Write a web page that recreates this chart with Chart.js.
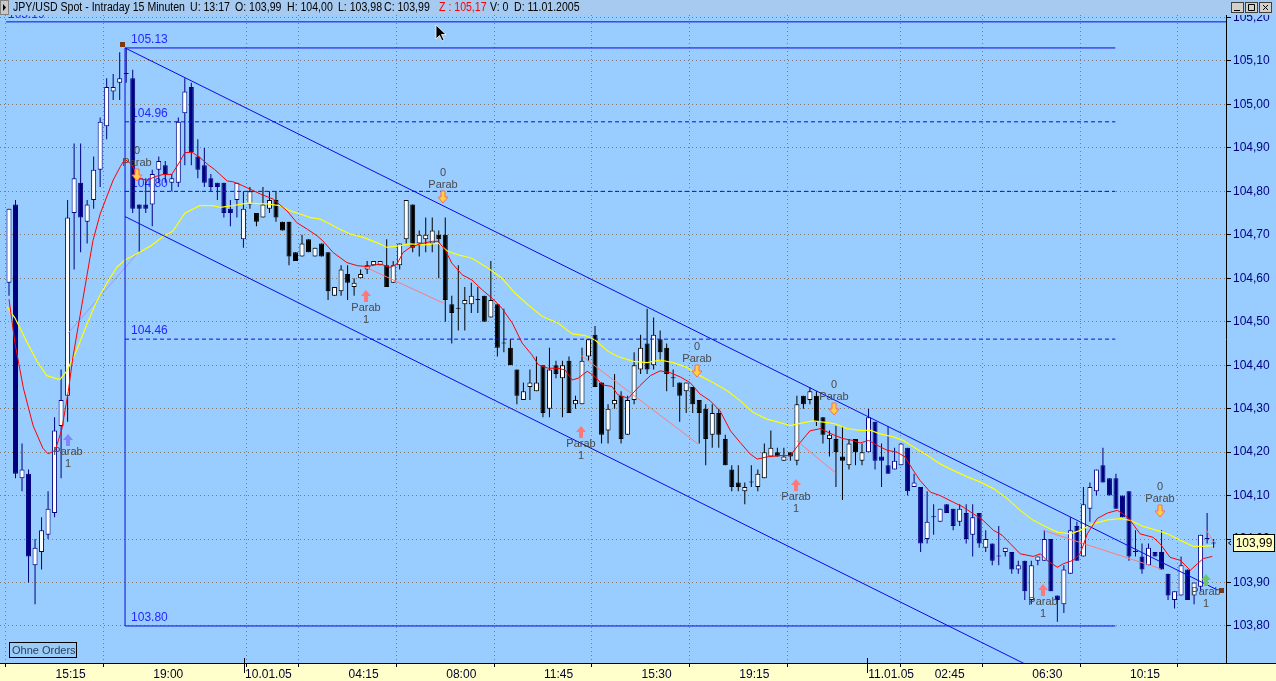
<!DOCTYPE html>
<html><head><meta charset="utf-8">
<script src="https://cdn.jsdelivr.net/npm/chart.js@4.4.1/dist/chart.umd.min.js"></script>
<style>html,body{margin:0;padding:0;background:#99CCFF;overflow:hidden}canvas{display:block}</style>
</head><body>
<canvas id="c" width="1276" height="681" style="width:1276px;height:681px"></canvas>
<script>
// ---- candle data (15-minute bars, index 0..185) ----
const opens = [104.59,104.77,104.14,104.15,103.94,103.97,104.01,104.06,104.26,104.33,104.75,104.82,104.73,104.78,104.85,104.95,105.03,105.05,105.07,105.06,
104.77,104.77,104.77,104.85,104.86,104.82,104.82,104.98,105.04,104.88,104.86,104.83,104.82,104.82,104.76,104.78,104.69,104.77,104.75,104.74,
104.76,104.78,104.73,104.73,104.66,104.65,104.69,104.65,104.68,104.66,104.56,104.57,104.61,104.58,104.60,104.62,104.63,104.63,104.63,104.59,
104.63,104.69,104.77,104.68,104.69,104.68,104.70,104.70,104.54,104.53,104.54,104.54,104.55,104.56,104.51,104.54,104.45,104.44,104.39,104.32,
104.35,104.34,104.40,104.30,104.40,104.37,104.41,104.31,104.31,104.42,104.47,104.36,104.25,104.31,104.33,104.24,104.32,104.39,104.45,104.40,
104.46,104.44,104.37,104.36,104.34,104.35,104.32,104.30,104.24,104.29,104.23,104.16,104.13,104.11,104.13,104.12,104.14,104.19,104.20,104.18,
104.20,104.18,104.33,104.32,104.33,104.28,104.23,104.23,104.19,104.17,104.23,104.18,104.20,104.27,104.19,104.17,104.16,104.17,104.21,104.12,
104.12,104.00,104.05,104.04,104.08,104.07,104.04,104.06,104.01,104.06,103.98,103.99,103.96,103.97,103.97,103.93,103.95,103.86,103.95,103.95,
104.00,103.87,103.85,103.92,104.03,103.96,104.07,104.11,104.17,104.14,104.14,104.10,104.11,103.97,103.96,103.94,103.97,103.97,103.92,103.86,
103.87,103.93,103.87,103.89,104.00,103.99];
const highs = [104.76,104.78,104.22,104.16,104.00,104.05,104.11,104.28,104.39,104.78,104.91,104.91,104.78,104.88,104.97,105.06,105.07,105.12,105.13,105.08,
104.77,104.83,104.85,104.88,104.87,104.84,104.97,105.06,105.05,104.92,104.90,104.84,104.82,104.82,104.78,104.82,104.80,104.81,104.75,104.81,
104.80,104.80,104.73,104.73,104.66,104.70,104.69,104.67,104.68,104.66,104.58,104.63,104.63,104.60,104.62,104.64,104.64,104.64,104.69,104.64,
104.68,104.78,104.77,104.71,104.74,104.74,104.71,104.74,104.56,104.63,104.58,104.59,104.58,104.56,104.64,104.54,104.53,104.46,104.39,104.36,
104.39,104.42,104.40,104.44,104.41,104.41,104.42,104.33,104.44,104.46,104.49,104.36,104.31,104.38,104.34,104.33,104.43,104.47,104.53,104.51,
104.48,104.45,104.39,104.36,104.36,104.35,104.32,104.31,104.31,104.30,104.24,104.17,104.17,104.13,104.17,104.16,104.22,104.25,104.21,104.21,
104.20,104.33,104.33,104.35,104.34,104.28,104.25,104.26,104.26,104.23,104.23,104.22,104.30,104.27,104.22,104.26,104.21,104.22,104.21,104.15,
104.12,104.11,104.08,104.07,104.08,104.07,104.08,104.08,104.08,104.06,104.02,103.99,104.03,103.98,103.97,103.95,103.95,103.95,103.96,104.02,
104.00,103.87,103.94,104.05,104.04,104.12,104.13,104.16,104.21,104.14,104.15,104.10,104.11,104.02,103.99,103.99,103.97,104.02,103.92,103.88,
103.96,103.93,103.90,104.01,104.06,104.00];
const lows = [104.56,104.14,104.11,103.90,103.85,103.93,104.00,104.05,104.14,104.27,104.62,104.66,104.68,104.76,104.81,104.92,105.01,105.01,105.05,104.75,
104.66,104.75,104.72,104.82,104.82,104.80,104.81,104.86,104.86,104.83,104.81,104.80,104.78,104.74,104.72,104.74,104.67,104.76,104.72,104.74,
104.75,104.73,104.71,104.63,104.64,104.65,104.66,104.65,104.65,104.55,104.56,104.56,104.55,104.56,104.60,104.61,104.63,104.63,104.58,104.59,
104.62,104.68,104.66,104.65,104.66,104.66,104.60,104.50,104.45,104.48,104.48,104.52,104.52,104.50,104.51,104.42,104.43,104.40,104.31,104.32,
104.32,104.34,104.28,104.28,104.37,104.28,104.29,104.30,104.31,104.41,104.35,104.22,104.22,104.30,104.22,104.24,104.31,104.38,104.38,104.39,
104.41,104.34,104.35,104.27,104.29,104.29,104.22,104.17,104.21,104.21,104.17,104.11,104.11,104.08,104.12,104.11,104.14,104.19,104.19,104.18,
104.18,104.17,104.30,104.31,104.26,104.22,104.19,104.12,104.09,104.16,104.17,104.17,104.20,104.16,104.12,104.15,104.16,104.17,104.10,104.12,
103.97,103.99,104.01,104.04,104.06,104.02,104.03,103.99,103.96,103.98,103.97,103.94,103.94,103.96,103.92,103.92,103.86,103.85,103.94,103.95,
103.88,103.81,103.83,103.92,103.95,103.96,104.04,104.10,104.13,104.10,104.07,104.05,103.95,103.96,103.92,103.94,103.96,103.93,103.86,103.84,
103.87,103.86,103.85,103.88,103.99,103.98];
const closes = [104.76,104.15,104.16,103.96,103.98,104.02,104.07,104.25,104.32,104.74,104.83,104.74,104.77,104.85,104.96,105.04,105.04,105.06,105.07,104.76,
104.76,104.76,104.84,104.87,104.84,104.83,104.96,105.03,104.89,104.85,104.82,104.81,104.81,104.75,104.75,104.82,104.76,104.80,104.73,104.77,
104.78,104.74,104.71,104.65,104.64,104.68,104.66,104.67,104.65,104.57,104.58,104.62,104.59,104.59,104.61,104.63,104.64,104.64,104.58,104.63,
104.68,104.78,104.67,104.70,104.70,104.71,104.69,104.55,104.52,104.53,104.55,104.56,104.55,104.50,104.55,104.44,104.45,104.40,104.33,104.34,
104.36,104.36,104.29,104.39,104.38,104.40,104.29,104.32,104.41,104.46,104.35,104.24,104.30,104.32,104.23,104.32,104.40,104.44,104.39,104.47,
104.43,104.38,104.37,104.33,104.36,104.31,104.29,104.23,104.29,104.24,104.17,104.12,104.12,104.12,104.13,104.15,104.20,104.21,104.19,104.19,
104.19,104.31,104.31,104.34,104.27,104.24,104.24,104.20,104.18,104.22,104.20,104.20,104.28,104.18,104.18,104.15,104.18,104.22,104.11,104.13,
103.99,104.04,104.05,104.07,104.06,104.03,104.07,104.00,104.05,103.99,104.00,103.95,103.96,103.98,103.93,103.94,103.88,103.94,103.96,104.00,
103.88,103.86,103.93,104.02,103.95,104.08,104.12,104.16,104.13,104.10,104.07,104.05,103.96,103.97,103.93,103.98,103.96,103.93,103.87,103.88,
103.94,103.86,103.90,104.01,104.00,103.99];

// ---- axis ticks ----
const xTickIdx = [7,22,36.1,37,52,67,82,97,112,127,131.8,142,157,172];
const xTickLabels = ['15:15','19:00','10.01.05','','04:15','08:00','11:45','15:30','19:15','','11.01.05','02:45','06:30','10:15'];
const dayTickIdx = [36.1,131.8];
const yTicks = [103.8,103.9,104.0,104.1,104.2,104.3,104.4,104.5,104.6,104.7,104.8,104.9,105.0,105.1,105.2];

// ---- moving averages ----
const maRedIdx = [0,0.9,2.2,3.7,5.2,6.0,7.1,8.1,9.1,9.8,10.9,12.0,12.9,14.0,15.1,16.0,17.1,17.8,18.9,19.8,21.2,22.7,23.7,25.0,26.3,27.0,28.1,29.3,30.6,31.6,33.5,34.4,35.9,38.6,40.6,42.7,44.2,45.8,47.3,48.2,49.8,51.9,53.5,55.0,57.0,58.5,59.6,60.5,61.6,63.1,65.0,65.9,67.0,68.0,69.6,71.1,72.7,74.2,75.7,77.3,78.8,80.3,81.3,82.8,84.3,85.4,86.5,87.4,88.8,90.0,91.1,92.6,93.5,95.1,96.9,98.5,100.0,101.5,103.1,104.6,106.1,107.7,109.2,110.8,112.3,113.8,114.9,116.4,118.4,120.0,121.5,123.0,124.6,126.6,128.1,129.6,130.7,132.0,133.3,134.9,136.4,137.6,138.7,139.9,141.5,143.0,145.0,146.5,148.1,149.6,151.2,152.5,153.8,155.3,157.3,158.4,159.4,161.0,161.9,163.4,164.5,165.6,167.1,168.7,170.2,171.1,172.2,173.7,175.7,176.8,178.3,179.9,181.4,182.5,183.4,184.8];
const maRedVal = [104.552,104.452,104.348,104.261,104.209,104.196,104.204,104.252,104.339,104.417,104.513,104.609,104.687,104.748,104.791,104.826,104.857,104.874,104.861,104.830,104.826,104.835,104.839,104.839,104.870,104.889,104.890,104.878,104.861,104.850,104.824,104.822,104.813,104.794,104.782,104.755,104.728,104.713,104.698,104.686,104.659,104.636,104.629,104.627,104.633,104.625,104.633,104.659,104.671,104.679,104.685,104.685,104.665,104.635,104.608,104.596,104.573,104.554,104.531,104.497,104.451,104.424,104.401,104.393,104.393,104.389,104.366,104.370,104.386,104.374,104.355,104.351,104.332,104.324,104.353,104.376,104.387,104.383,104.373,104.360,104.334,104.318,104.295,104.249,104.222,104.196,104.184,104.189,104.192,104.192,104.222,104.249,104.254,104.240,104.231,104.227,104.221,104.227,104.216,104.204,104.200,104.189,104.162,104.135,104.108,104.100,104.085,104.074,104.058,104.043,104.020,104.009,103.989,103.966,103.960,103.966,103.951,103.935,103.943,103.951,103.966,104.012,104.047,104.060,104.066,104.058,104.043,104.012,104.004,103.989,103.958,103.951,103.928,103.943,103.955,103.960];
const maYelIdx = [-0.3,0.9,2.8,4.3,5.8,7.8,8.9,10.4,12.0,13.5,15.1,16.6,17.8,19.7,21.7,23.7,25.2,27.0,29.3,31.3,32.4,34.4,36.6,39.6,41.6,43.2,44.7,46.2,47.8,49.3,50.8,52.4,54.4,56.5,58.1,60.1,61.6,63.9,65.9,67.4,69.0,71.1,73.6,75.7,77.7,79.7,81.9,84.3,86.5,88.5,90.0,92.0,93.5,95.9,98.0,100.0,102.0,104.1,106.1,108.1,110.3,112.3,114.3,116.4,118.4,120.0,121.5,123.5,125.7,126.9,128.7,130.7,132.3,133.8,135.8,137.3,138.9,141.0,143.0,145.0,147.2,149.2,151.2,153.3,155.3,157.3,159.4,161.0,163.0,164.5,166.5,168.7,170.7,172.2,174.2,176.3,177.9,179.9,181.9,183.3,184.9];
const maYelVal = [104.535,104.509,104.452,104.409,104.376,104.367,104.387,104.435,104.496,104.548,104.591,104.626,104.642,104.657,104.674,104.696,104.709,104.750,104.767,104.767,104.763,104.767,104.773,104.771,104.767,104.755,104.748,104.740,104.736,104.725,104.713,104.702,104.694,104.682,104.671,104.675,104.679,104.677,104.681,104.662,104.654,104.646,104.623,104.600,104.566,104.539,104.512,104.497,104.472,104.468,104.458,104.432,104.420,104.409,104.406,104.412,104.406,104.395,104.376,104.360,104.341,104.318,104.291,104.276,104.268,104.261,104.266,104.272,104.268,104.265,104.254,104.250,104.250,104.242,104.235,104.227,104.212,104.193,104.173,104.158,104.143,104.131,104.116,104.093,104.066,104.043,104.027,104.016,104.012,104.020,104.035,104.044,104.047,104.043,104.029,104.020,104.012,103.997,103.983,103.983,103.985];

// ---- stop / trend segments ----
const sarStartIdx = [9.1,54.7,87.9,121.0,158.8,183.9];
const sarEndIdx   = [19.7,66.7,105.8,126.9,176.8,185.0];
const sarStartVal = [104.474,104.626,104.422,104.226,104.020,104.020];
const sarEndVal   = [104.657,104.543,104.219,104.153,103.932,103.993];

// ---- horizontal levels and channel ----
const levelPrices = [105.13,104.96,104.80,104.46,103.80];
const levelLabels = ['105.13','104.96','104.80','104.46','103.80'];
const levelDashed = [false,true,true,true,false];
const levelStartIdx = 17.82, levelEndIdx = 169.9;
const topLevelPrice = 105.19, topLevelLabel = '105.19';
const chanUpperIdx = [17.82,185.56], chanUpperVal = [105.13,103.883];
const chanLowerIdx = [17.82,160], chanLowerVal = [104.742,103.683];

// ---- Parab signals ----
const sigIdx   = [9.0,19.7,54.8,66.7,87.9,105.7,120.9,126.7,158.8,176.8,183.9];
const sigDir   = [1,-1,1,-1,1,-1,1,-1,1,-1,1];
const sigPrice = [104.228,104.838,104.559,104.787,104.246,104.387,104.124,104.299,103.883,104.065,103.906];
const sigColor = ['#8484FF','#FFD040','#FF7878','#FFD040','#FF7878','#FFD040','#FF7878','#FFD040','#FF7878','#FFD040','#6CC46C'];
const lastPrice = 103.99;

const FONT = "'Liberation Sans', Arial, sans-serif";
const NAVY = '#000080';
const idx = opens.map((_, i) => i);
const isNavy = i => i <= 36 || i >= 132;
const wickColors = idx.map(i => isNavy(i) ? NAVY : '#000000');
const bodyFill = idx.map(i => closes[i] > opens[i] ? '#FFFFFF' : (isNavy(i) ? NAVY : '#000000'));
const bodyStroke = wickColors;
const pts = (xs, ys) => xs.map((x, k) => ({x: x, y: ys[k]}));
const GRID = '#857a70';

const datasets = [
  {type:'line', data: pts(maRedIdx, maRedVal), borderColor:'#FF0000', borderWidth:1, pointRadius:0, tension:0, order:1},
  {type:'line', data: pts(maYelIdx, maYelVal), borderColor:'#FFFF00', borderWidth:1.2, pointRadius:0, tension:0, order:2},
  {type:'line', data: pts(chanUpperIdx, chanUpperVal), borderColor:'#0A0AE6', borderWidth:1, pointRadius:0, order:1},
  {type:'line', data: pts(chanLowerIdx, chanLowerVal), borderColor:'#0A0AE6', borderWidth:1, pointRadius:0, order:1},
  {type:'line', data: [{x:-0.45,y:topLevelPrice},{x:186.9,y:topLevelPrice}], borderColor:'#0A0AE6', borderWidth:1, pointRadius:0, order:1},
  {type:'line', data: [{x:levelStartIdx,y:levelPrices[4]},{x:levelStartIdx,y:levelPrices[0]}], borderColor:'#0A0AE6', borderWidth:1, pointRadius:0, order:1},
];
levelPrices.forEach((p, k) => datasets.push({type:'line', data:[{x:levelStartIdx,y:p},{x:levelEndIdx,y:p}], borderColor:'#0A0AE6', borderWidth:1, borderDash: levelDashed[k] ? [4,3] : [], pointRadius:0, order:1}));
sarStartIdx.forEach((s, k) => datasets.push({type:'line', data:[{x:s,y:sarStartVal[k]},{x:sarEndIdx[k],y:sarEndVal[k]}], borderColor: k === 0 ? '#9A9AF0' : '#FF7C7C', borderWidth:1, pointRadius:0, order:3}));
datasets.push({type:'bar', data: idx.map(i => ({x:i, y:[lows[i], highs[i]]})), backgroundColor: wickColors, borderWidth:0, barThickness:1, grouped:false, inflateAmount:0, order:6});
datasets.push({type:'bar', data: idx.map(i => ({x:i, y:[opens[i], closes[i]]})), backgroundColor: bodyFill, borderColor: bodyStroke, borderWidth:1, borderSkipped:false, barThickness:5, minBarLength:1, grouped:false, inflateAmount:0, order:5});

function arrow(ctx, x, y, dir, fill, stroke) {
  ctx.save();
  ctx.beginPath();
  const h = dir; // 1 = up, -1 = down
  ctx.moveTo(x, y - 6*h);
  ctx.lineTo(x + 5, y);
  ctx.lineTo(x + 2, y);
  ctx.lineTo(x + 2, y + 6*h);
  ctx.lineTo(x - 2, y + 6*h);
  ctx.lineTo(x - 2, y);
  ctx.lineTo(x - 5, y);
  ctx.closePath();
  ctx.fillStyle = fill; ctx.fill();
  if (stroke) { ctx.strokeStyle = stroke; ctx.lineWidth = 1; ctx.stroke(); }
  ctx.restore();
}

const decor = {
  id: 'decor',
  beforeDraw(chart) {
    const ctx = chart.ctx;
    ctx.save();
    ctx.fillStyle = '#99CCFF'; ctx.fillRect(0, 0, 1276, 681);
    ctx.fillStyle = '#FFFFCC'; ctx.fillRect(0, 663, 1276, 18);
    ctx.restore();
  },
  beforeDatasetsDraw(chart) {
    const ctx = chart.ctx, xs = chart.scales.x, ys = chart.scales.y, a = chart.chartArea;
    ctx.save();
    ctx.beginPath(); ctx.rect(a.left, a.top, a.right - a.left, a.bottom - a.top); ctx.clip();
    ctx.font = '12px ' + FONT; ctx.fillStyle = '#2626FF'; ctx.textBaseline = 'bottom'; ctx.textAlign = 'left';
    const lx = xs.getPixelForValue(levelStartIdx) + 6;
    levelPrices.forEach((p, k) => ctx.fillText(levelLabels[k], lx, ys.getPixelForValue(p) - 2));
    ctx.fillText(topLevelLabel, 8, ys.getPixelForValue(topLevelPrice) - 1);
    ctx.restore();
  },
  afterDatasetsDraw(chart) {
    const ctx = chart.ctx, xs = chart.scales.x, ys = chart.scales.y;
    ctx.save();
    ctx.fillStyle = '#7A3A10';
    const sx = xs.getPixelForValue(chanUpperIdx[0]), sy = ys.getPixelForValue(chanUpperVal[0]);
    ctx.fillRect(Math.round(sx) - 5, Math.round(sy) - 6, 5, 5);
    const ex = xs.getPixelForValue(chanUpperIdx[1]), ey = ys.getPixelForValue(chanUpperVal[1]);
    ctx.fillRect(Math.round(ex) + 2, Math.round(ey) - 2, 5, 5);
    ctx.font = '11px ' + FONT; ctx.textAlign = 'center'; ctx.textBaseline = 'middle';
    sigIdx.forEach((s, k) => {
      const x = Math.round(xs.getPixelForValue(s)), y = Math.round(ys.getPixelForValue(sigPrice[k]));
      if (sigDir[k] > 0) {
        arrow(ctx, x, y, 1, sigColor[k], null);
        ctx.fillStyle = '#4A4A4A';
        ctx.fillText('Parab', x, y + 12);
        ctx.fillText('1', x, y + 24);
      } else {
        arrow(ctx, x, y, -1, sigColor[k], '#FF6A50');
        ctx.fillStyle = '#4A4A4A';
        ctx.fillText('Parab', x, y - 12);
        ctx.fillText('0', x, y - 24);
      }
    });
    ctx.restore();
  },
  afterDraw(chart) {
    const ctx = chart.ctx, xs = chart.scales.x, ys = chart.scales.y;
    ctx.save();
    ctx.strokeStyle = '#000'; ctx.lineWidth = 1;
    ctx.beginPath(); ctx.moveTo(0, 663.5); ctx.lineTo(1276, 663.5); ctx.stroke();
    dayTickIdx.forEach(d => {
      const x = Math.round(xs.getPixelForValue(d)) + 0.5;
      ctx.beginPath(); ctx.moveTo(x, 658); ctx.lineTo(x, 673); ctx.stroke();
    });
    // title bar
    ctx.fillStyle = '#A6CAF0'; ctx.fillRect(0, 0, 1276, 15);
    ctx.fillStyle = '#C8C8C8'; ctx.fillRect(0, 0, 9, 15);
    ctx.strokeStyle = '#808080'; ctx.strokeRect(0.5, 0.5, 8, 14);
    ctx.fillStyle = '#000'; ctx.beginPath(); ctx.moveTo(3, 4); ctx.lineTo(6, 7.5); ctx.lineTo(3, 11); ctx.closePath(); ctx.fill();
    ctx.font = '12px ' + FONT; ctx.textBaseline = 'middle'; ctx.textAlign = 'left';
    const title = [['JPY/USD Spot - Intraday 15 Minuten',13,'#000'],['U: 13:17',190,'#000'],['O: 103,99',235,'#000'],['H: 104,00',287,'#000'],['L: 103,98',338,'#000'],['C: 103,99',384,'#000'],['Z : 105,17',439,'#FF0000'],['V: 0',490,'#000'],['D: 11.01.2005',514,'#000']];
    title.forEach(t => { ctx.fillStyle = t[2]; ctx.fillText(t[0], t[1], 8, ctx.measureText(t[0]).width * 0.88); });
    [1231, 1245, 1259].forEach((bx, k) => {
      ctx.fillStyle = '#D4D0C8'; ctx.fillRect(bx, 2, 13, 11);
      ctx.strokeStyle = '#404040'; ctx.strokeRect(bx + 0.5, 2.5, 12, 10);
      ctx.strokeStyle = '#000'; ctx.beginPath();
      if (k === 0) { ctx.moveTo(bx + 3, 10.5); ctx.lineTo(bx + 9, 10.5); }
      if (k === 1) { ctx.rect(bx + 3.5, 4.5, 6, 6); }
      if (k === 2) { ctx.moveTo(bx + 4, 5); ctx.lineTo(bx + 9, 10); ctx.moveTo(bx + 9, 5); ctx.lineTo(bx + 4, 10); }
      ctx.stroke();
    });
    // Ohne Orders button
    ctx.fillStyle = '#9ACCF8'; ctx.fillRect(9, 642, 68, 16);
    ctx.strokeStyle = '#000'; ctx.strokeRect(9.5, 642.5, 67, 15);
    ctx.fillStyle = '#2C3C5C'; ctx.font = '11px ' + FONT; ctx.textAlign = 'left'; ctx.textBaseline = 'middle';
    ctx.fillText('Ohne Orders', 12, 650.5);
    // last price box
    const py = Math.round(ys.getPixelForValue(lastPrice));
    ctx.fillStyle = '#FFFFC0'; ctx.fillRect(1233, py - 9, 42, 18);
    ctx.strokeStyle = '#000'; ctx.strokeRect(1233.5, py - 8.5, 41, 17);
    ctx.fillStyle = '#000'; ctx.font = '12px ' + FONT; ctx.textAlign = 'center';
    ctx.fillText(lastPrice.toFixed(2).replace('.', ','), 1254, py + 0.5);
    ctx.beginPath(); ctx.moveTo(1231, py - 2); ctx.lineTo(1228.5, py); ctx.lineTo(1231, py + 2); ctx.stroke();
    // mouse pointer
    const cx = 436, cy = 25;
    ctx.beginPath();
    ctx.moveTo(cx, cy); ctx.lineTo(cx, cy + 14); ctx.lineTo(cx + 3.5, cy + 10.5); ctx.lineTo(cx + 6, cy + 16);
    ctx.lineTo(cx + 8, cy + 15); ctx.lineTo(cx + 5.5, cy + 9.5); ctx.lineTo(cx + 10, cy + 9.5); ctx.closePath();
    ctx.fillStyle = '#000'; ctx.fill(); ctx.strokeStyle = '#FFF'; ctx.lineWidth = 0.8; ctx.stroke();
    ctx.restore();
  }
};

new Chart(document.getElementById('c'), {
  type: 'bar',
  data: { datasets },
  plugins: [decor],
  options: {
    responsive: false, animation: false, events: [],
    devicePixelRatio: 1,
    layout: { padding: { top: 15, left: 0, right: 0, bottom: 0 } },
    plugins: { legend: { display: false }, tooltip: { enabled: false } },
    scales: {
      x: {
        type: 'linear', offset: false, min: -1.382, max: 186.9,
        afterBuildTicks: s => { s.ticks = xTickIdx.map(v => ({value: v})); },
        afterFit: s => { s.height = 18; },
        ticks: { autoSkip: false, maxRotation: 0, minRotation: 0, align: 'start', labelOffset: 1, padding: 0,
          color: '#000033', font: { family: FONT, size: 12 },
          callback: (v, k) => xTickLabels[k] },
        grid: { color: c => (c.tick && dayTickIdx.includes(c.tick.value)) ? 'rgba(0,0,0,0)' : GRID,
          tickColor: c => (c.tick && dayTickIdx.includes(c.tick.value)) ? 'rgba(0,0,0,0)' : '#000',
          tickLength: 4, lineWidth: 1, tickBorderDash: [] },
        border: { display: true, color: '#000', dash: [1, 3] }
      },
      y: {
        type: 'linear', position: 'right', min: 103.7148, max: 105.2058,
        afterBuildTicks: s => { s.ticks = yTicks.map(v => ({value: v})); },
        afterFit: s => { s.width = 50; },
        ticks: { color: NAVY, padding: 2, font: { family: FONT, size: 12 },
          callback: v => v.toFixed(2).replace('.', ',') },
        grid: { color: GRID, tickColor: '#000', tickLength: 5, lineWidth: 1, tickBorderDash: [] },
        border: { display: true, color: '#000', dash: [1, 3] }
      }
    }
  }
});
</script>
</body></html>
